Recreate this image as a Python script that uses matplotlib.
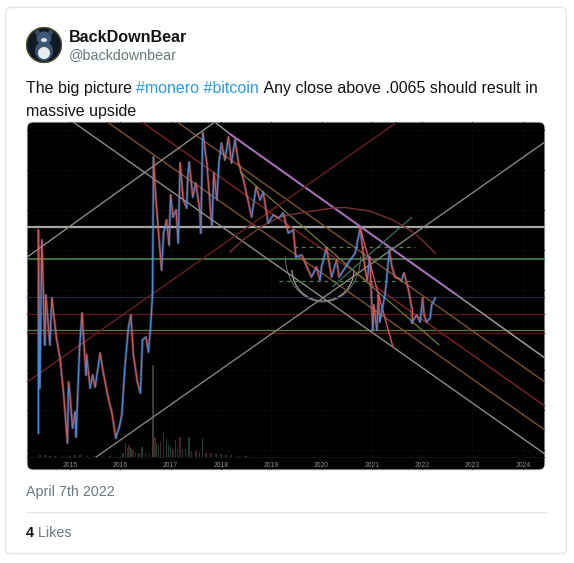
import matplotlib
matplotlib.use("Agg")
import matplotlib.pyplot as plt
from matplotlib.patches import FancyBboxPatch, Circle, Ellipse, Arc

plt.rcParams['font.family'] = ['Liberation Sans', 'DejaVu Sans']

# ---- tweet text
author = "BackDownBear"
handle = "@backdownbear"
tweet_parts = [("The big picture ", "text"), ("#monero #bitcoin", "link"),
               (" Any close above .0065 should result in", "text")]
tweet_line2 = "massive upside"
date_text = "April 7th 2022"
likes_count = "4"
likes_word = " Likes"

# ---- chart data: year, price level (chart index units)
years = [2014.37, 2014.37, 2014.40, 2014.44, 2014.50, 2014.52, 2014.60, 2014.64, 2014.73, 2014.80,
         2014.87, 2014.95, 2014.97, 2015.00, 2015.05, 2015.10, 2015.12, 2015.19, 2015.24, 2015.27,
         2015.32, 2015.33, 2015.40, 2015.45, 2015.50, 2015.60, 2015.66, 2015.76, 2015.83, 2015.91,
         2015.98, 2016.03, 2016.09, 2016.16, 2016.21, 2016.26, 2016.34, 2016.40, 2016.44, 2016.51,
         2016.56, 2016.60, 2016.64, 2016.66, 2016.69, 2016.74, 2016.82, 2016.86, 2016.92, 2016.97,
         2017.00, 2017.05, 2017.11, 2017.15, 2017.19, 2017.25, 2017.32, 2017.34, 2017.37, 2017.44,
         2017.50, 2017.58, 2017.60, 2017.64, 2017.72, 2017.82, 2017.86, 2017.92, 2017.96, 2018.01,
         2018.08, 2018.15, 2018.21, 2018.28, 2018.35, 2018.45, 2018.61, 2018.70, 2018.78, 2018.84,
         2018.94, 2019.04, 2019.15, 2019.24, 2019.34, 2019.44, 2019.49, 2019.61, 2019.71, 2019.80,
         2019.90, 2019.97, 2020.00, 2020.10, 2020.20, 2020.30, 2020.35, 2020.53, 2020.67, 2020.77,
         2020.86, 2020.91, 2020.96, 2021.02, 2021.04, 2021.10, 2021.13, 2021.16, 2021.26, 2021.28,
         2021.35, 2021.40, 2021.46, 2021.59, 2021.64, 2021.73, 2021.79, 2021.79, 2021.89, 2021.96,
         2022.01, 2022.04, 2022.09, 2022.16, 2022.19, 2022.26]
levels = [37, 240, 82, 230, 125, 175, 125, 172, 132, 112,
          78, 27, 88, 75, 42, 58, 33, 122, 157, 132,
          95, 115, 82, 95, 83, 117, 98, 72, 58, 32,
          43, 55, 102, 142, 155, 115, 88, 77, 130, 133,
          118, 142, 175, 313, 283, 250, 200, 237, 250, 225,
          275, 253, 260, 227, 307, 270, 262, 293, 308, 273,
          287, 260, 237, 337, 307, 243, 297, 270, 307, 327,
          310, 333, 307, 330, 307, 290, 253, 283, 270, 278,
          247, 255, 252, 257, 237, 240, 213, 215, 203, 193,
          203, 190, 203, 222, 193, 210, 193, 207, 217, 242,
          203, 190, 213, 140, 165, 140, 175, 148, 175, 183,
          220, 203, 193, 190, 197, 180, 163, 147, 155, 148,
          172, 155, 148, 152, 165, 172]

vol_years = [2014.40, 2014.50, 2014.60, 2014.70, 2014.85, 2015.00, 2015.10, 2015.20, 2015.35, 2015.50, 2015.65, 2015.80,
             2016.00, 2016.05, 2016.10, 2016.14, 2016.17, 2016.21, 2016.25, 2016.30, 2016.37,
             2016.43, 2016.50, 2016.58, 2016.65, 2016.69, 2016.72, 2016.76, 2016.80, 2016.86, 2016.92, 2016.96, 2017.00,
             2017.05, 2017.10, 2017.14, 2017.19, 2017.24, 2017.30, 2017.37, 2017.42, 2017.50, 2017.57, 2017.63, 2017.70,
             2017.80, 2017.90, 2018.00, 2018.10, 2018.20, 2018.35, 2018.50]
vol_sizes = [2, 2, 1.5, 1, 1, 1.5, 2, 2, 1.5, 1, 1, 1,
             1.5, 4, 14, 9, 12, 9, 7, 5, 4,
             10, 4, 3, 92, 20, 14, 12, 15, 25, 18, 12, 10,
             8, 17, 10, 20, 7, 8, 20, 6, 6, 5, 19, 4,
             4, 3, 3, 2, 2, 1, 1]
vol_up = [0, 1, 1, 1, 0, 0, 1, 1, 0, 0, 1, 1,
          0, 1, 1, 0, 0, 1, 0, 0, 1,
          1, 1, 0, 0, 0, 1, 1, 0, 0, 1, 1, 1,
          0, 1, 0, 0, 1, 1, 1, 0, 0, 1, 1, 0,
          0, 1, 0, 0, 0, 1, 1]

h_levels = [243, 211.5, 173, 156, 139.6, 136.6]
h_colors = ['#a6a6a2', '#4a7f4c', '#2b2b4a', '#5e1616', '#5f7a2c', '#6a1515']
h_widths = [1.6, 1.2, 0.7, 0.9, 0.9, 0.9]

trend_start_year = [2015.06, 2015.74, 2016.43, 2017.13, 2017.88, 2018.18, 2022.69, 2018.38,
                    2014.15, 2014.15, 2015.52, 2020.21, 2020.77]
trend_start_level = [348, 348, 348, 348, 348, 336, 175, 298, 213, 88, 13, 183, 242]
trend_end_year = [2024.44, 2024.44, 2024.44, 2024.44, 2018.18, 2022.69, 2024.44, 2022.34,
                  2017.88, 2021.50, 2024.44, 2021.80, 2021.42]
trend_end_level = [16, 40, 64, 88, 336, 175, 112, 125, 348, 348, 328, 253, 123]
trend_colors = ['#8c8c86', '#7a5230', '#802222', '#7a5230', '#a09898', '#a86fb8', '#9a9a9a',
                '#6f7c3a', '#8c8c84', '#6a1e1e', '#85857e', '#3a7264', '#d84a72']
trend_widths = [1.0, 1.0, 1.0, 1.0, 1.0, 1.5, 1.1, 0.9, 1.0, 1.0, 1.0, 0.9, 1.0]

arc_years = [2018.18, 2018.44, 2018.82, 2019.17, 2019.57, 2020.23, 2020.47, 2020.96, 2021.42, 2021.82, 2022.06, 2022.26]
arc_levels = [218, 230, 244, 253, 257, 262, 262.5, 259, 250, 238, 227, 217]

dash_start = [2019.46, 2019.16]
dash_end = [2021.85, 2021.83]
dash_levels = [223, 189]

tick_years = [2015, 2016, 2017, 2018, 2019, 2020, 2021, 2022, 2023, 2024]

W, H = 574, 563
fig = plt.figure(figsize=(W / 100, H / 100), dpi=100, facecolor='white')

# page layer in screen pixels
bg = fig.add_axes([0, 0, 1, 1])
bg.set_xlim(0, W)
bg.set_ylim(H, 0)
bg.axis('off')
bg.add_patch(FancyBboxPatch((5.5, 7.5), 561, 546, boxstyle="round,pad=0,rounding_size=5",
                            fc='white', ec='#e1e8ed', lw=1))
bg.plot([26, 546], [512, 512], color='#e1e8ed', lw=1)

# avatar
bg.add_patch(Circle((44, 45), 18, fc='#101a26', ec='none'))
bg.add_patch(Circle((44, 45), 17.5, fc='none', ec='#5e5a34', lw=0.9))
bg.add_patch(Ellipse((44, 51), 18, 20, fc='#3a536e', ec='none'))
bg.add_patch(Ellipse((44, 38), 15, 13, fc='#3f5a78', ec='none'))
bg.add_patch(Circle((37.5, 32.5), 2.6, fc='#33485e', ec='none'))
bg.add_patch(Circle((50.5, 32.5), 2.6, fc='#33485e', ec='none'))
bg.add_patch(Ellipse((44, 53), 12, 12, fc='#e8ecec', ec='none'))
bg.add_patch(Ellipse((44, 40), 6, 4, fc='#dfe5e8', ec='none'))

# header and tweet text
txt = '#111416'
grey = '#697882'
link = '#2b9be8'
bg.text(69, 42, author, fontsize=11.6, fontweight='bold', color=txt, va='baseline', ha='left')
bg.text(69, 59, handle, fontsize=10.3, color=grey, va='baseline', ha='left')

renderer = fig.canvas.get_renderer()
x = 26.0
for part, kind in tweet_parts:
    t = bg.text(x, 93, part.replace(' ', '\u00a0'), fontsize=11.5,
                color=link if kind == 'link' else txt, va='baseline', ha='left')
    x = t.get_window_extent(renderer).x1
bg.text(26, 116, tweet_line2, fontsize=11.5, color=txt, va='baseline', ha='left')
bg.text(26, 496, date_text, fontsize=10.3, color=grey, va='baseline', ha='left')
t = bg.text(26, 537, likes_count, fontsize=10.3, fontweight='bold', color=txt, va='baseline', ha='left')
bg.text(t.get_window_extent(renderer).x1, 537, likes_word.replace(' ', '\u00a0'), fontsize=10.3,
        color=grey, va='baseline', ha='left')

# clip shape for the chart picture
clip = FancyBboxPatch((27, 122), 518, 348, boxstyle="round,pad=0,rounding_size=6",
                      fc='#000000', ec='#dfe5ea', lw=0.8)
bg.add_patch(clip)

# chart
ax = fig.add_axes([27 / W, 1 - 470 / H, 518 / W, 348 / H])
ax.set_facecolor('none')
ax.set_xlim(2014.145, 2024.443)
ax.set_ylim(0, 348)
for s in ax.spines.values():
    s.set_visible(False)
ax.set_xticks(tick_years)
ax.set_xticklabels([str(y) for y in tick_years])
ax.set_yticks(range(20, 348, 40))
ax.set_yticklabels([])
ax.tick_params(axis='both', length=0)
ax.tick_params(axis='x', pad=-6.0, labelsize=4.9, labelcolor='#8e8e8e')
ax.grid(True, color='#09090c', lw=0.6)
ax.set_axisbelow(True)

# volume
ax.plot([2014.145, 2024.443], [12.7, 12.7], color='#161616', lw=0.6)
for vy, vs, up in zip(vol_years, vol_sizes, vol_up):
    c = '#1f3d37' if up else '#452222'
    if vs > 50:
        c = '#3c3c36'
    ax.bar(vy, vs, width=0.03, bottom=12.7, color=c, lw=0)

# horizontal levels
for lv, c, w in zip(h_levels, h_colors, h_widths):
    ax.axhline(lv, color=c, lw=w)

# trend lines
for x0, y0, x1, y1, c, w in zip(trend_start_year, trend_start_level, trend_end_year,
                                trend_end_level, trend_colors, trend_widths):
    ax.plot([x0, x1], [y0, y1], color=c, lw=w, solid_capstyle='butt')

ax.plot(arc_years, arc_levels, color='#7a3030', lw=1.0)
ax.add_patch(Arc((2020.03, 200), 1.23, 62, theta1=160, theta2=380, color='#a0a09a', lw=0.9))
ax.add_patch(Arc((2020.03, 214), 1.50, 92, theta1=200, theta2=340, color='#6c6c68', lw=0.7))

for x0, x1, lv in zip(dash_start, dash_end, dash_levels):
    ax.plot([x0, x1], [lv, lv], color='#4f804f', lw=0.9, ls=(0, (3, 3)))

# price
ax.plot(years, levels, color='#c9a0d8', lw=2.0, alpha=0.3)
for i in range(len(years) - 1):
    c = '#3f8fe0' if levels[i + 1] > levels[i] else '#d9564f'
    ax.plot(years[i:i + 2], levels[i:i + 2], color=c, lw=0.9, solid_capstyle='round')

for art in list(ax.lines) + list(ax.patches):
    art.set_clip_path(clip)

fig.savefig('out.png', dpi=100, facecolor='white')
